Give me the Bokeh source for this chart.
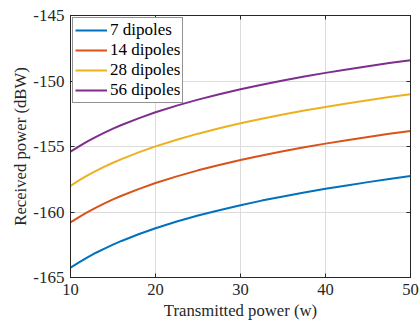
from bokeh.plotting import figure
from bokeh.models import Range1d, FixedTicker, LinearAxis, Legend, LegendItem
from bokeh.embed import file_html
from bokeh.resources import INLINE

# Transmitted power (W)
tx_power = [10, 11, 12, 13, 14, 15, 16, 18, 20, 22.5, 25, 27.5, 30, 32.5, 35, 37.5, 40, 42.5, 45, 47.5, 50]

# Received power (dBW)
rx_7 = [-164.25, -163.84, -163.46, -163.11, -162.79, -162.49, -162.21, -161.70, -161.24, -160.73,
        -160.27, -159.86, -159.48, -159.13, -158.81, -158.51, -158.23, -157.97, -157.72, -157.48, -157.26]
rx_14 = [-160.80, -160.39, -160.01, -159.66, -159.34, -159.04, -158.76, -158.25, -157.79, -157.28,
         -156.82, -156.41, -156.03, -155.68, -155.36, -155.06, -154.78, -154.52, -154.27, -154.03, -153.81]
rx_28 = [-158.00, -157.59, -157.21, -156.86, -156.54, -156.24, -155.96, -155.45, -154.99, -154.48,
         -154.02, -153.61, -153.23, -152.88, -152.56, -152.26, -151.98, -151.72, -151.47, -151.23, -151.01]
rx_56 = [-155.40, -154.99, -154.61, -154.26, -153.94, -153.64, -153.36, -152.85, -152.39, -151.88,
         -151.42, -151.01, -150.63, -150.28, -149.96, -149.66, -149.38, -149.12, -148.87, -148.63, -148.41]

series_labels = ["7 dipoles", "14 dipoles", "28 dipoles", "56 dipoles"]
series_values = [rx_7, rx_14, rx_28, rx_56]
colors = ["#0072BD", "#D95319", "#EDB120", "#7E2F8E"]

x_ticks = [10, 20, 30, 40, 50]
x_tick_labels = ["10", "20", "30", "40", "50"]
y_ticks = [-165, -160, -155, -150, -145]
y_tick_labels = ["-165", "-160", "-155", "-150", "-145"]

FONT = "Liberation Serif"
AX = "#262626"

p = figure(width=420, height=322, output_backend="svg", toolbar_location=None,
           x_range=Range1d(10, 50), y_range=Range1d(-165, -145),
           min_border_left=70, min_border_top=15, min_border_right=10, min_border_bottom=45)
p.background_fill_color = "white"
p.border_fill_color = "white"
p.outline_line_color = AX
p.outline_line_width = 1

for ax in (p.xaxis[0], p.yaxis[0]):
    ax.major_tick_in = 4
    ax.major_tick_out = 0
    ax.minor_tick_in = 0
    ax.minor_tick_out = 0
    ax.axis_line_color = AX
    ax.major_tick_line_color = AX
    ax.major_label_text_font = FONT
    ax.major_label_text_font_size = "16.5px"
    ax.major_label_text_color = AX
    ax.axis_label_text_font = FONT
    ax.axis_label_text_font_size = "16.7px"
    ax.axis_label_text_font_style = "normal"
    ax.axis_label_text_color = AX

p.yaxis[0].major_label_text_font_size = "17px"
p.xaxis[0].ticker = FixedTicker(ticks=x_ticks)
p.yaxis[0].ticker = FixedTicker(ticks=y_ticks)
p.xaxis[0].major_label_overrides = dict(zip(x_ticks, x_tick_labels))
p.yaxis[0].major_label_overrides = dict(zip(y_ticks, y_tick_labels))
p.xaxis[0].axis_label = "Transmitted power (w)"
p.yaxis[0].axis_label = "Received power (dBW)"
p.xaxis[0].major_label_standoff = 6
p.yaxis[0].major_label_standoff = 6
p.xaxis[0].axis_label_standoff = 3
p.yaxis[0].axis_label_standoff = 0

# mirrored ticks on top and right (no labels)
top = LinearAxis(ticker=FixedTicker(ticks=x_ticks))
right = LinearAxis(ticker=FixedTicker(ticks=y_ticks))
top.major_label_overrides = {t: "" for t in x_ticks}
right.major_label_overrides = {t: "" for t in y_ticks}
for ax in (top, right):
    ax.major_tick_in = 4
    ax.major_tick_out = 0
    ax.minor_tick_in = 0
    ax.minor_tick_out = 0
    ax.axis_line_color = AX
    ax.major_tick_line_color = AX
    ax.major_label_text_font_size = "1px"
    ax.major_label_standoff = 0
p.add_layout(top, "above")
p.add_layout(right, "right")

p.xgrid.ticker = FixedTicker(ticks=x_ticks)
p.ygrid.ticker = FixedTicker(ticks=y_ticks)
p.xgrid.grid_line_color = "#dcdcdc"
p.ygrid.grid_line_color = "#dcdcdc"

items = []
for lab, vals, c in zip(series_labels, series_values, colors):
    r = p.line(tx_power, vals, line_color=c, line_width=2)
    items.append(LegendItem(label=lab, renderers=[r]))

legend = Legend(items=items, location="top_left")
legend.label_text_font = FONT
legend.label_text_font_size = "17px"
legend.label_text_color = "black"
legend.border_line_color = AX
legend.border_line_width = 1
legend.background_fill_alpha = 1
legend.margin = 2
legend.padding = 2
legend.spacing = 0
legend.glyph_width = 32
legend.glyph_height = 20
legend.label_height = 20
legend.label_standoff = 3
p.add_layout(legend)

open("out.html", "w").write(file_html(p, INLINE))
